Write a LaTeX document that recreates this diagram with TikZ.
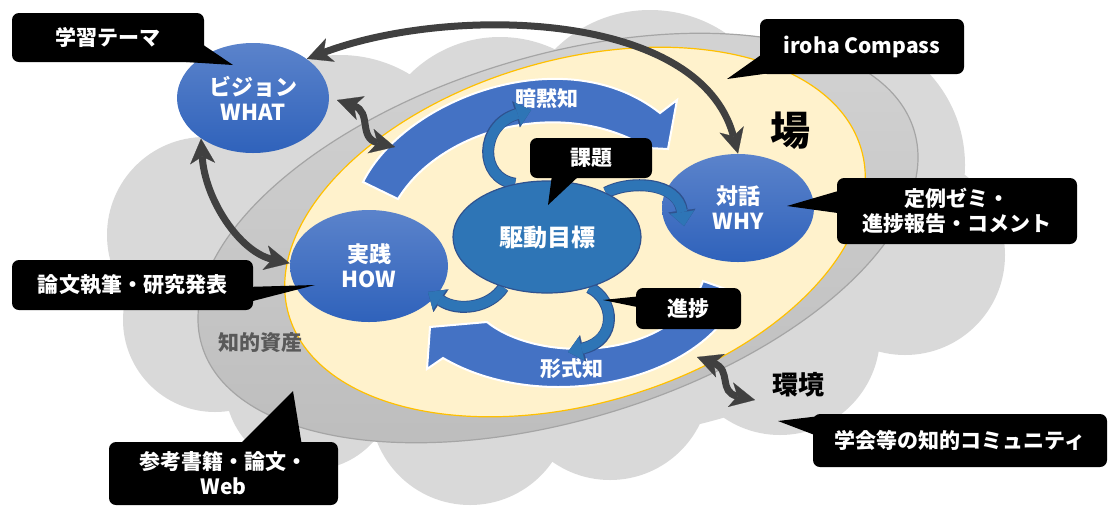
\documentclass[tikz,border=0pt]{standalone}
\usepackage{fontspec}
\setmainfont{Noto Sans CJK JP}
\usetikzlibrary{shapes.geometric,arrows.meta}
\definecolor{cloudgray}{HTML}{D9D9D9}
\definecolor{ringtop}{HTML}{D4D4D4}
\definecolor{ringbot}{HTML}{BCBCBC}
\definecolor{ringline}{HTML}{A5A5A5}
\definecolor{cream}{HTML}{FFF2CC}
\definecolor{creamline}{HTML}{FFC000}
\definecolor{bandblue}{HTML}{4472C4}
\definecolor{ellTop}{HTML}{5B83CB}
\definecolor{ellBot}{HTML}{2F62BB}
\definecolor{drvblue}{HTML}{2E75B6}
\definecolor{drvline}{HTML}{2F528F}
\definecolor{darkarrow}{HTML}{404040}
\definecolor{assetgray}{HTML}{595959}
\pgfdeclarelayer{bg}
\pgfdeclarelayer{arrowlayer}
\pgfdeclarelayer{drivelayer}
\pgfdeclarelayer{front}
\pgfsetlayers{bg,main,arrowlayer,drivelayer,front}
\tikzset{
  blueell/.style={ellipse, inner sep=0pt, top color=ellTop, bottom color=ellBot, draw=none,
    text=white, font=\fontsize{11}{12.5}\selectfont\bfseries, align=center},
  drvell/.style={ellipse, inner sep=0pt, fill=drvblue, draw=drvline, line width=0.6pt,
    text=white, font=\fontsize{12}{14}\selectfont\bfseries},
  callout/.style={fill=black, rounded corners=3.5pt, text=white,
    font=\fontsize{10.5}{12.5}\selectfont\bfseries, align=center, inner sep=0pt},
  pointer/.style={fill=black},
  darr/.style={draw=darkarrow, line width=3.5pt,
    {Stealth[length=12.5pt,width=12.5pt,inset=3.5pt,line width=0.1pt]}-{Stealth[length=12.5pt,width=12.5pt,inset=3.5pt,line width=0.1pt]}},
  sarr/.style={draw=drvblue, line width=5pt, -{Triangle[length=7pt,width=12pt,line width=0.1pt]},
    preaction={draw=drvline, line width=6pt, -{Triangle[length=7.8pt,width=13.6pt,line width=0.1pt]}}},
  band/.style={fill=bandblue, draw=white, line width=1pt, line join=miter},
  whitelbl/.style={text=white, font=\fontsize{10.5}{12.5}\selectfont\bfseries, inner sep=0pt},
}
\begin{document}
\begin{tikzpicture}[x=0.5pt,y=-0.5pt]
\useasboundingbox (0,0) rectangle (1108,505);

\begin{pgfonlayer}{bg}
% cloud
\fill[cloudgray]
  (340,190) circle[radius=67.5pt]
  (260,200) circle[radius=37.5pt]
  (500,165) circle[radius=64pt]
  (650,145) circle[radius=67.5pt]
  (830,165) circle[radius=67.5pt]
  (905,255) circle[radius=50pt]
  (205,235) circle[radius=49pt]
  (215,320) circle[radius=46pt]
  (310,385) circle[radius=42.5pt]
  (470,405) circle[radius=50pt]
  (610,380) circle[radius=50pt]
  (780,335) circle[radius=50pt]
  (560,270) ellipse[x radius=165pt, y radius=85pt];
% ring
\draw[draw=ringline, line width=0.6pt, top color=ringtop, bottom color=ringbot,
  rotate around={16.8:(558,238)}] (558,238) ellipse[x radius=186pt, y radius=91pt];
% cream field
\draw[draw=creamline, fill=cream, line width=0.6pt,
  rotate around={16.1:(575,232)}] (575,232) ellipse[x radius=149pt, y radius=86pt];
% big circular arrows
\filldraw[band] (363,182) .. controls (405,98) and (565,38) .. (660,113) -- (677,100)
  -- (668,149) -- (648,148) .. controls (560,95) and (440,130) .. (398,199) -- cycle;
\filldraw[band] (703,281) -- (740,294) .. controls (700,385) and (540,415) .. (443,358)
  -- (427,369) -- (430,327) -- (487,322) .. controls (540,365) and (675,360) .. (703,281) -- cycle;
\end{pgfonlayer}

% blue ellipses
\node[blueell, minimum width=76pt, minimum height=55pt] (what) at (253,98) {ビジョン\\WHAT};
\node[blueell, minimum width=79pt, minimum height=56pt] (how) at (369,266) {実践\\HOW};
\node[blueell, minimum width=76pt, minimum height=54pt] (why) at (738,208) {対話\\WHY};

% labels
\node[whitelbl] (anmoku) at (547,99) {暗黙知};
\node[whitelbl] (keishiki) at (572,369) {形式知};
\node[font=\fontsize{20}{24}\selectfont\bfseries, inner sep=0pt] (ba) at (790,131) {場};
\node[font=\fontsize{13}{15}\selectfont\bfseries, inner sep=0pt] (kankyo) at (798,385) {環境};
\node[font=\fontsize{10.5}{12}\selectfont\bfseries, text=assetgray, inner sep=0pt] (asset) at (260,343) {知的資産};

\begin{pgfonlayer}{drivelayer}
\node[drvell, minimum width=94pt, minimum height=56pt] (drive) at (547,237) {駆動目標};
\end{pgfonlayer}

\coordinate (wc1) at (337,100);
\coordinate (wc2) at (395,147);
\coordinate (wd1) at (697,357);
\coordinate (wd2) at (755,400);
\coordinate (s1) at (531,110);
\coordinate (s2) at (684,226);
\coordinate (s3) at (428,292);
\coordinate (s4) at (568,352);

\begin{pgfonlayer}{arrowlayer}
\draw[darr] (what.36) .. controls (450,5) and (700,10) .. (why.north);
\draw[darr] (what.218) .. controls (205,200) and (240,252) .. (how.178);
\draw[darr] (wc1) .. controls (372,112) and (358,138) .. (wc2);
\draw[darr] (wd1) .. controls (732,370) and (718,392) .. (wd2);
\draw[sarr] (drive.121) .. controls (478,178) and (480,125) .. (s1);
\draw[sarr] (drive.37) .. controls (630,180) and (678,182) .. (s2);
\draw[sarr] (drive.229) .. controls (490,308) and (458,312) .. (s3);
\draw[sarr] (drive.310) .. controls (615,300) and (618,340) .. (s4);
\end{pgfonlayer}

\begin{pgfonlayer}{front}
\node[callout, minimum width=96pt, minimum height=24.5pt] (cTheme) at (108,37.5) {学習テーマ};
\coordinate (pTheme) at (233,65);
\fill[pointer] (196,40) -- (pTheme) -- (186,62) -- cycle;

\node[callout, minimum width=102pt, minimum height=27.5pt] (cIroha) at (862,46.5) {iroha Compass};
\coordinate (pIroha) at (727,79);
\fill[pointer] (768,50) -- (pIroha) -- (778,72) -- cycle;

\node[callout, minimum width=61pt, minimum height=20pt] (cKadai) at (591,158) {課題};
\coordinate (pKadai) at (548,205);
\fill[pointer] (552,175) -- (pKadai) -- (580,175) -- cycle;

\node[callout, minimum width=120pt, minimum height=33pt] (cZemi) at (957,211) {定例ゼミ・\\進捗報告・コメント};
\coordinate (pZemi) at (787,206);
\fill[pointer] (845,189) -- (pZemi) -- (845,214) -- cycle;

\node[callout, minimum width=120.5pt, minimum height=25pt] (cRonbun) at (132.5,285) {論文執筆・研究発表};
\coordinate (pRonbun) at (315,285);
\fill[pointer] (245,287) -- (pRonbun) -- (245,303) -- cycle;

\node[callout, minimum width=52.5pt, minimum height=20.5pt] (cShinchoku) at (688.5,308.5) {進捗};
\coordinate (pShinchoku) at (603,300);
\fill[pointer] (642,296) -- (pShinchoku) -- (642,308) -- cycle;

\node[callout, minimum width=114.5pt, minimum height=31.5pt] (cSanko) at (223.5,473.5) {参考書籍・論文・\\Web};
\coordinate (pSanko) at (293,391);
\fill[pointer] (238,446) -- (pSanko) -- (302,446) -- cycle;

\node[callout, minimum width=147pt, minimum height=26.5pt] (cGakkai) at (960,440.5) {学会等の知的コミュニティ};
\coordinate (pGakkai) at (778,421);
\fill[pointer] (820,416) -- (pGakkai) -- (820,437) -- cycle;
\end{pgfonlayer}
\end{tikzpicture}
\end{document}
